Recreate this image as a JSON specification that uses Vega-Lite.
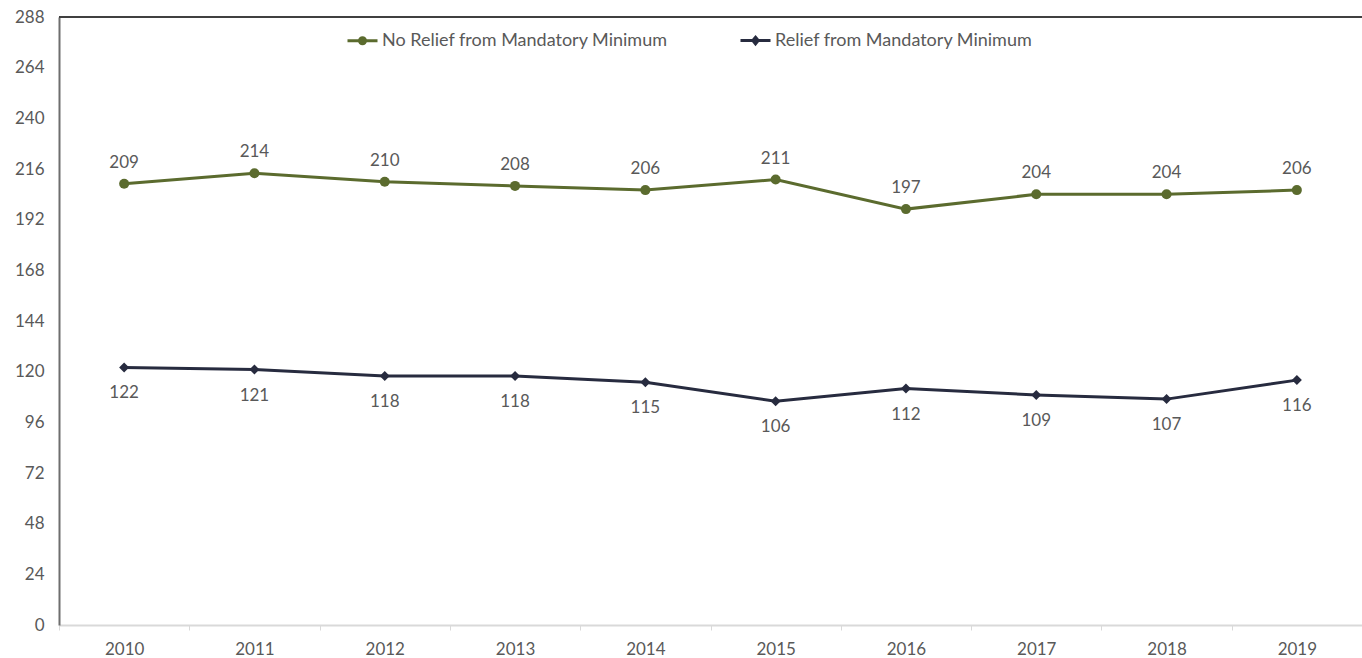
{
  "$schema": "https://vega.github.io/schema/vega-lite/v6.json",
  "width": 1303,
  "height": 608,
  "autosize": {"type": "none"},
  "padding": {"left": 59, "top": 17, "right": 0, "bottom": 33},
  "background": "white",
  "config": {
    "view": {"stroke": null},
    "font": "Lato",
    "axis": {"labelFont": "Lato", "labelFontSize": 17, "labelColor": "#595959", "grid": false, "title": null},
    "legend": {"labelFont": "Lato", "labelFontSize": 18, "labelColor": "#595959", "labelLimit": 500}
  },
  "data": {
    "values": [
      {"year": "2010", "series": "No Relief from Mandatory Minimum", "value": 209},
      {"year": "2011", "series": "No Relief from Mandatory Minimum", "value": 214},
      {"year": "2012", "series": "No Relief from Mandatory Minimum", "value": 210},
      {"year": "2013", "series": "No Relief from Mandatory Minimum", "value": 208},
      {"year": "2014", "series": "No Relief from Mandatory Minimum", "value": 206},
      {"year": "2015", "series": "No Relief from Mandatory Minimum", "value": 211},
      {"year": "2016", "series": "No Relief from Mandatory Minimum", "value": 197},
      {"year": "2017", "series": "No Relief from Mandatory Minimum", "value": 204},
      {"year": "2018", "series": "No Relief from Mandatory Minimum", "value": 204},
      {"year": "2019", "series": "No Relief from Mandatory Minimum", "value": 206},
      {"year": "2010", "series": "Relief from Mandatory Minimum", "value": 122},
      {"year": "2011", "series": "Relief from Mandatory Minimum", "value": 121},
      {"year": "2012", "series": "Relief from Mandatory Minimum", "value": 118},
      {"year": "2013", "series": "Relief from Mandatory Minimum", "value": 118},
      {"year": "2014", "series": "Relief from Mandatory Minimum", "value": 115},
      {"year": "2015", "series": "Relief from Mandatory Minimum", "value": 106},
      {"year": "2016", "series": "Relief from Mandatory Minimum", "value": 112},
      {"year": "2017", "series": "Relief from Mandatory Minimum", "value": 109},
      {"year": "2018", "series": "Relief from Mandatory Minimum", "value": 107},
      {"year": "2019", "series": "Relief from Mandatory Minimum", "value": 116}
    ]
  },
  "encoding": {
    "x": {
      "field": "year", "type": "ordinal", "bandPosition": 0.5,
      "scale": {"type": "band", "paddingInner": 0, "paddingOuter": 0},
      "axis": {
        "domainColor": "#d9d9d9", "domainWidth": 2, "tickColor": "#d9d9d9", "tickWidth": 1,
        "tickSize": 5, "tickBand": "extent", "labelPadding": 11, "labelAngle": 0
      }
    },
    "y": {
      "field": "value", "type": "quantitative",
      "scale": {"domain": [0, 288], "nice": false, "zero": true},
      "axis": {
        "values": [0, 24, 48, 72, 96, 120, 144, 168, 192, 216, 240, 264, 288],
        "domainColor": "#6e6e6e", "domainWidth": 2, "ticks": false, "labelPadding": 15
      }
    }
  },
  "layer": [
    {
      "mark": {"type": "rule", "color": "#404040", "strokeWidth": 2},
      "encoding": {"y": {"datum": 288}, "x": null}
    },
    {
      "mark": {"type": "line", "strokeWidth": 3},
      "encoding": {
        "color": {
          "field": "series", "type": "nominal",
          "scale": {"domain": ["No Relief from Mandatory Minimum", "Relief from Mandatory Minimum"], "range": ["#5B6B2E", "#272B3F"]},
          "legend": {
            "title": null, "orient": "none", "direction": "horizontal", "columns": 2,
            "legendX": 287, "legendY": 7, "padding": 0, "columnPadding": 66,
            "symbolSize": 900, "labelOffset": 3,
            "encode": {
              "symbols": {
                "update": {
                  "shape": {"signal": "datum.value === 'Relief from Mandatory Minimum' ? 'M-1,0H1M0,-0.22L0.18,0L0,0.22L-0.18,0Z' : 'M-1,0H1M-0.2,0A0.2,0.2,0,1,1,0.2,0A0.2,0.2,0,1,1,-0.2,0Z'"},
                  "stroke": {"signal": "scale('color', datum.value)"},
                  "fill": {"signal": "scale('color', datum.value)"},
                  "strokeWidth": {"value": 3},
                  "opacity": {"value": 1}
                }
              }
            }
          }
        }
      }
    },
    {
      "transform": [{"filter": "datum.series === 'No Relief from Mandatory Minimum'"}],
      "mark": {"type": "point", "filled": true, "opacity": 1, "size": 100, "shape": "circle", "color": "#5B6B2E"}
    },
    {
      "transform": [{"filter": "datum.series === 'Relief from Mandatory Minimum'"}],
      "mark": {"type": "point", "filled": true, "opacity": 1, "size": 100, "shape": "diamond", "color": "#272B3F"}
    },
    {
      "transform": [{"filter": "datum.series === 'No Relief from Mandatory Minimum'"}],
      "mark": {"type": "text", "dy": -21, "fontSize": 17, "color": "#595959", "font": "Lato"},
      "encoding": {"text": {"field": "value", "type": "quantitative"}}
    },
    {
      "transform": [{"filter": "datum.series === 'Relief from Mandatory Minimum'"}],
      "mark": {"type": "text", "dy": 26, "fontSize": 17, "color": "#595959", "font": "Lato"},
      "encoding": {"text": {"field": "value", "type": "quantitative"}}
    }
  ]
}
